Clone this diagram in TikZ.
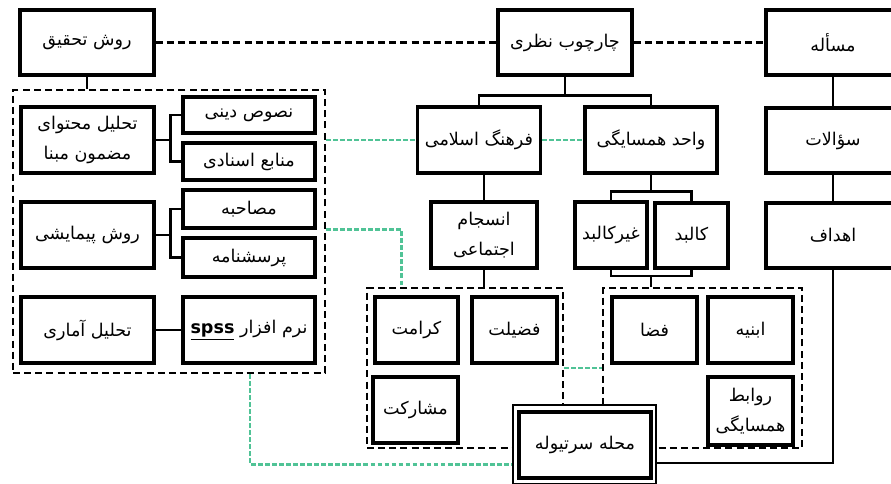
\documentclass[tikz,border=0pt]{standalone}
\usepackage{fontspec}
\newfontfamily\arabicfont[Script=Arabic]{DejaVu Sans}
\TeXXeTstate=1
\newcommand{\fa}[1]{{\arabicfont\beginR #1\endR}}
\definecolor{linkgreen}{RGB}{80,195,150}

\begin{document}
\begin{tikzpicture}[x=0.03cm, y=-0.03cm]
	\tikzset{
		box/.style={draw, line width=2.6pt, fill=white, inner sep=1pt, align=center,
				font=\fontsize{15}{26}\selectfont},
		sz/.style 2 args={minimum width=#1*0.03cm, minimum height=#2*0.03cm},
		group/.style={draw, line width=1.9pt, dash pattern=on 6pt off 3.5pt},
		link/.style={line width=1.8pt},
		dashlink/.style={line width=1.8pt, dash pattern=on 6pt off 3.5pt},
		greenlink/.style={linkgreen, line width=2pt, dash pattern=on 4pt off 2pt},
	}
	\useasboundingbox (0,0) rectangle (891,484);

	\node[group, sz={312}{283}] (leftgrp) at (169,231.5) {};
	\node[group, sz={196}{160}] (midgrp) at (465,368) {};
	\node[group, sz={199}{160}] (rightgrp) at (702.5,368) {};

	\node[box, sz={134}{65}] (method) at (87,42.5) {\fa{روش تحقیق}};
	\node[box, sz={134}{65}] (frame) at (565,42.5) {\fa{چارچوب نظری}};
	\node[box, sz={134}{65}] (problem) at (833,42.5) {\fa{مسأله}};
	\node[box, sz={134}{65}] (questions) at (833,140.5) {\fa{سؤالات}};
	\node[box, sz={134}{65}] (goals) at (833,235.5) {\fa{اهداف}};

	\node[box, sz={123}{66}] (islamic) at (479,140) {\fa{فرهنگ اسلامی}};
	\node[box, sz={132}{66}] (unit) at (651,140) {\fa{واحد همسایگی}};
	\node[box, sz={106}{66}] (cohesion) at (484,235) {\fa{انسجام}\\\fa{اجتماعی}};
	\node[box, sz={72}{66}] (nonbody) at (611,235) {\fa{غیرکالبد}};
	\node[box, sz={73}{65}] (body) at (691.5,235.5) {\fa{کالبد}};

	\node[box, sz={133}{66}] (content) at (87.5,140) {\fa{تحلیل محتوای}\\\fa{مضمون مبنا}};
	\node[box, sz={132}{36}] (texts) at (249,115) {\fa{نصوص دینی}};
	\node[box, sz={132}{37}] (docs) at (249,161.5) {\fa{منابع اسنادی}};
	\node[box, sz={133}{66}] (survey) at (87.5,235) {\fa{روش پیمایشی}};
	\node[box, sz={132}{38}] (interview) at (249,209) {\fa{مصاحبه}};
	\node[box, sz={132}{39}] (questionnaire) at (249,257.5) {\fa{پرسشنامه}};
	\node[box, sz={133}{66}] (stats) at (87.5,330) {\fa{تحلیل آماری}};
	\node[box, sz={132}{66}] (spss) at (249,330) {\fa{نرم افزار \beginL\textbf{\underline{spss}}\endL}};

	\node[box, sz={83}{66}] (dignity) at (416.5,330) {\fa{کرامت}};
	\node[box, sz={85}{66}] (virtue) at (514.5,330) {\fa{فضیلت}};
	\node[box, sz={85}{66}] (participation) at (415.5,410) {\fa{مشارکت}};
	\node[box, sz={85}{66}] (space) at (654.5,330) {\fa{فضا}};
	\node[box, sz={85}{66}] (buildings) at (750.5,330) {\fa{ابنیه}};
	\node[box, sz={85}{68}] (relations) at (750.5,411) {\fa{روابط}\\\fa{همسایگی}};

	\node[draw, line width=1.2pt, fill=white, sz={143}{79}] (siteframe) at (584.5,444.5) {};
	\node[box, sz={132}{66}] (site) at (585,445) {\fa{محله سرتیوله}};

	\draw[dashlink] (method.east) -- (frame.west);
	\draw[dashlink] (frame.east) -- (problem.west);

	\draw[link] (method.south) -- (method.south |- leftgrp.north);
	\foreach \p/\a/\b in {content/texts/docs, survey/interview/questionnaire}
		{
			\draw[link] (\p.east) -- ++(15,0) coordinate (fork) |- (\a.west) (fork) |- (\b.west);
		}
	\draw[link] (stats) -- (spss);

	\draw[link] (frame.south) -- ++(0,19) coordinate (fork) -| (islamic.north) (fork) -| (unit.north);
	\draw[link] (cohesion.north |- islamic.south) -- (cohesion.north);
	\draw[link] (cohesion.south) -- (cohesion.south |- midgrp.north);
	\draw[link] (unit.south) -- ++(0,17) coordinate (fork) -| (nonbody.north) (fork) -| (body.north);
	\draw[link] (unit.south |- rightgrp.north) -- ++(0,-11) coordinate (fork) -| (nonbody.south) (fork) -| (body.south);

	\draw[link] (problem) -- (questions);
	\draw[link] (questions) -- (goals);
	\draw[link] (goals.south) |- ([yshift=-0.55cm]siteframe.east);

	\draw[greenlink] (leftgrp.east |- islamic.west) -- (islamic.west);
	\draw[greenlink] (islamic.east) -- (unit.west);
	\draw[greenlink] (leftgrp.east |- interview.south) -| ([xshift=-1.9cm]midgrp.north);
	\draw[greenlink] (midgrp.east) -- (rightgrp.west);
	\draw[greenlink] ([xshift=2.43cm]leftgrp.south) |- ([yshift=-0.6cm]siteframe.west);
\end{tikzpicture}
\end{document}
